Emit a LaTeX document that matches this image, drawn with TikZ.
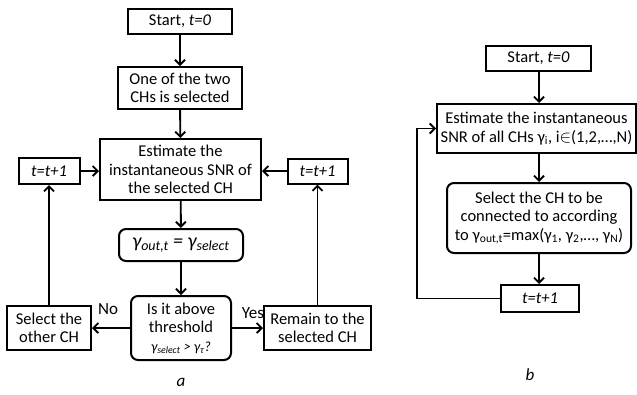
\documentclass[tikz,border=0pt]{standalone}
\usepackage{fontspec}
\setmainfont{Carlito}
\usetikzlibrary{arrows.meta}

\tikzset{
  box/.style={draw, line width=2pt, align=center, inner sep=0pt,
    font=\fontsize{16.5}{18.5}\selectfont},
  rbox/.style={box, rounded corners=7pt},
  arr/.style={-{Straight Barb[length=5pt,width=10pt]}, line width=1.9pt},
  lbl/.style={font=\fontsize{17}{18}\selectfont},
}

\begin{document}
\begin{tikzpicture}[x=1pt, y=-1pt]
            \useasboundingbox (0,0) rectangle (637,394);
            % a
            \node[box, minimum width=104, minimum height=25] (starta) at (180, 21.5) {Start, \textit{t=0}};
            \node[box, minimum width=124, minimum height=42] (onea) at (180, 88) {One of the two\\CHs is selected};
            \node[box, minimum width=161, minimum height=61] (esta) at (180.5, 169.5) {Estimate the\\instantaneous SNR of\\the selected CH};
            \node[box, minimum width=61, minimum height=26] (tl) at (49, 171) {\textit{t=t+1}};
            \node[box, minimum width=60, minimum height=25] (tr) at (317.5, 171) {\textit{t=t+1}};
            \node[rbox, minimum width=124, minimum height=32, font=\fontsize{20}{22}\selectfont] (gam) at (181, 245) {\textit{γ\textsubscript{out,t} = γ\textsubscript{select}}};
            \node[rbox, minimum width=100, minimum height=64] (dec) at (181, 328) {Is it above\\threshold\\{\fontsize{14}{16}\selectfont\textit{γ\textsubscript{select} > γ\textsubscript{τ}?}}};
            \node[box, minimum width=84, minimum height=44] (other) at (49, 328) {Select the\\other CH};
            \node[box, minimum width=107, minimum height=44] (remain) at (317.5, 328) {Remain to the\\selected CH};
            \node[lbl] (no) at (108, 309) {No};
            \node[lbl] (yes) at (253, 313) {Yes};
            \node[lbl] (capa) at (181, 382) {\textit{a}};
            \draw[arr] (starta) -- (onea);
            \draw[arr] (onea) -- (esta);
            \draw[arr] (esta) -- (gam);
            \draw[arr] (gam) -- (dec);
            \draw[arr] (dec) -- (other);
            \draw[arr] (dec) -- (remain);
            \draw[arr] (other) -- (tl);
            \draw[arr] (remain) -- (tr);
            \draw[arr] (tl) -- (tl -| esta.west);
            \draw[arr] (tr) -- (tr -| esta.east);
            % b
            \node[box, minimum width=105, minimum height=25] (startb) at (538.5, 58) {Start, \textit{t=0}};
            \node[box, minimum width=199, minimum height=49] (estb) at (536.5, 128.5) {Estimate the instantaneous\\SNR of all CHs γ\textsubscript{i}, i$\in$(1,2,…,N)};
            \node[rbox, minimum width=184, minimum height=70] (selb) at (539, 218) {Select the CH to be\\connected to according\\to γ\textsubscript{out,t}=max(γ\textsubscript{1}, γ\textsubscript{2},…, γ\textsubscript{N})};
            \node[box, minimum width=78, minimum height=27] (tb) at (540, 298.5) {\textit{t=t+1}};
            \coordinate (loopb) at (417, 298.5);
            \node[lbl] (capb) at (530, 375) {\textit{b}};
            \draw[arr] (startb.south -| selb) -- (estb.north -| selb);
            \draw[arr] (estb.south -| selb) -- (selb);
            \draw[arr] (selb) -- (tb.north -| selb);
            \draw[arr] (tb) -- (loopb) |- (estb.west);
\end{tikzpicture}
\end{document}
